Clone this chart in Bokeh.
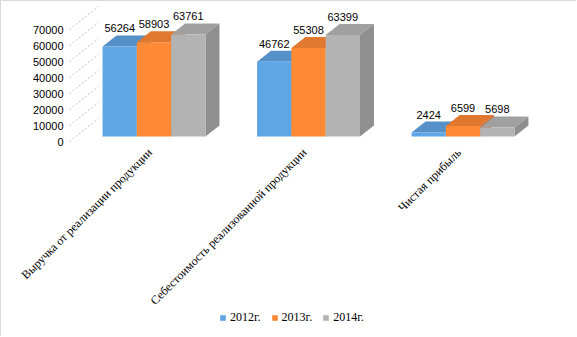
import math
from bokeh.plotting import figure
from bokeh.models import Range1d, Legend, LegendItem
from bokeh.core.properties import value
from bokeh.embed import file_html
from bokeh.resources import INLINE

# ---------------- data ----------------
categories = ["Выручка от реализации продукции",
              "Себестоимость реализованной продукции",
              "Чистая прибыль"]
years = ["2012г.", "2013г.", "2014г."]
v2012 = [56264, 46762, 2424]
v2013 = [58903, 55308, 6599]
v2014 = [63761, 63399, 5698]
y_ticks = [0, 10000, 20000, 30000, 40000, 50000, 60000, 70000]
y_tick_labels = ["0", "10000", "20000", "30000", "40000", "50000", "60000", "70000"]

series = [v2012, v2013, v2014]
front_colors = ["#5FA6E6", "#FF8A35", "#B3B3B3"]
top_colors = ["#5590C8", "#E0782F", "#A0A0A0"]
side_colors = ["#4A7FB2", "#C8682A", "#8F8F8F"]

# ---------------- geometry (projection) ----------------
PX_X = 154.5          # px per category unit
PX_Y = 0.0016         # px per value unit
W = 34.3 / PX_X       # bar width
DX = 14 / PX_X        # bar depth (x)
DY = 11 / PX_Y        # bar depth (y)
BASE = 5 / PX_Y       # bar floor offset
WALL_X0 = (69 - 153.5) / PX_X
WALL_DX = 29 / PX_X
WALL_DY = 23 / PX_Y

FONT_NUM = value("Liberation Sans")
NUM_SIZE = "11px"
FONT_SERIF = value("Liberation Serif")

x0 = -152.5 / PX_X
p = figure(width=576, height=336, output_backend="svg", toolbar_location=None,
           x_range=Range1d(x0, x0 + 576 / PX_X),
           y_range=Range1d((140 - 336) / PX_Y, 140 / PX_Y),
           x_axis_location=None, y_axis_location=None,
           min_border_left=0, min_border_right=0, min_border_top=0, min_border_bottom=0)
p.outline_line_color = None
p.grid.visible = False
p.background_fill_color = "white"
p.border_fill_color = "white"
p.styles = {"border-top": "1px solid #d9d9d9", "border-left": "1px solid #d9d9d9"}

# value-axis tick labels
p.text(x=[WALL_X0 - 6 / PX_X] * len(y_ticks), y=y_ticks, text=y_tick_labels,
       text_align="right", text_baseline="middle",
       text_font=FONT_NUM, text_font_size=NUM_SIZE, text_color="#000000")

# side-wall gridlines
p.segment(x0=[WALL_X0] * len(y_ticks), y0=y_ticks,
          x1=[WALL_X0 + WALL_DX] * len(y_ticks), y1=[t + WALL_DY for t in y_ticks],
          line_color="#bfbfbf", line_width=1, line_dash="2 2")

# bars
fronts = []
for i, vals in enumerate(series):
    lefts = [j + (i - 1) * W - W / 2 for j in range(len(categories))]
    rights = [l + W for l in lefts]
    tops = [BASE + v for v in vals]
    top_xs = [[l, r, r + DX, l + DX] for l, r in zip(lefts, rights)]
    top_ys = [[t, t, t + DY, t + DY] for t in tops]
    side_xs = [[r, r, r + DX, r + DX] for r in rights]
    side_ys = [[BASE, t, t + DY, BASE + DY] for t in tops]
    p.patches(top_xs, top_ys, fill_color=top_colors[i], line_color=None)
    p.patches(side_xs, side_ys, fill_color=side_colors[i], line_color=None)
    fr = p.quad(left=lefts, right=rights, bottom=[BASE] * len(vals), top=tops,
                fill_color=front_colors[i], line_color=None)
    fronts.append(fr)
    p.text(x=[(l + r) / 2 for l, r in zip(lefts, rights)],
           y=[t + DY + 7 / PX_Y for t in tops],
           text=[str(v) for v in vals],
           text_align="center", text_baseline="middle",
           text_font=FONT_NUM, text_font_size=NUM_SIZE, text_color="#000000")

# category labels
p.text(x=[j - 4 / PX_X for j in range(len(categories))],
       y=[-9 / PX_Y] * len(categories),
       text=categories, angle=math.pi / 4,
       text_align="right", text_baseline="middle",
       text_font=FONT_SERIF, text_font_size="12px", text_color="#000000")

# legend
items = [LegendItem(label=name, renderers=[fronts[i]], index=0) for i, name in enumerate(years)]
legend = Legend(items=items, orientation="horizontal", location=(218, 12),
                glyph_width=7, glyph_height=7, label_height=12, label_standoff=4,
                spacing=10, padding=0, margin=0, border_line_color=None,
                background_fill_alpha=0,
                label_text_font="Liberation Serif", label_text_font_size="12px",
                label_text_color="#000000")
p.add_layout(legend)

open("out.html", "w").write(file_html(p, INLINE))
